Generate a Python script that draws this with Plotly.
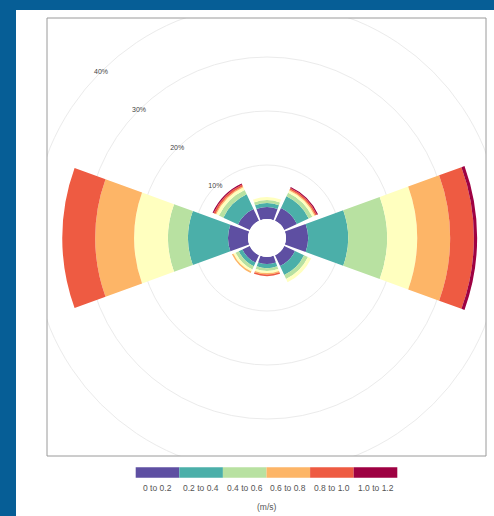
import math
import plotly.graph_objects as go

# ---- data: frequency (%) of each wind-speed bin per direction sector ----
directions = [0, 45, 90, 135, 180, 225, 270, 315]   # N, NE, E, SE, S, SW, W, NW

seg_0_02 = [2.2, 2.6, 4.1, 2.2, 1.3, 1.5, 3.7, 2.4]
seg_02_04 = [0.75, 2.4, 7.4, 1.85, 0.75, 0.75, 7.4, 3.0]
seg_04_06 = [0.55, 0.75, 7.2, 0.8, 0.55, 0.65, 3.7, 0.9]
seg_06_08 = [0.55, 0.45, 5.6, 0.65, 0.37, 0.45, 6.3, 0.55]
seg_08_10 = [0.0, 0.2, 6.1, 0.0, 0.28, 0.3, 7.2, 0.2]
seg_10_12 = [0.0, 0.3, 4.4, 0.0, 0.28, 0.0, 6.1, 0.35]
seg_12_up = [0.0, 0.2, 0.6, 0.0, 0.0, 0.0, 0.0, 0.2]

segments = [seg_0_02, seg_02_04, seg_04_06, seg_06_08, seg_08_10, seg_10_12, seg_12_up]
segment_colors = ["#5E4FA2", "#4BAFA9", "#B8E1A1", "#FFFFBF", "#FDB567", "#EE5B42", "#9E0142"]

legend_labels = ["0 to 0.2", "0.2 to 0.4", "0.4 to 0.6", "0.6 to 0.8", "0.8 to 1.0", "1.0 to 1.2"]
legend_colors = ["#5E4FA2", "#4BAFA9", "#B8E1A1", "#FDB567", "#EE5B42", "#9E0142"]
legend_title = "(m/s)"

grid_values = [10, 20, 30]
label_values = [10, 20, 30]
label_texts = ["10%", "20%", "30%"]
outer_ring_value = 40
outer_ring_text = "40%"

# ---- layout geometry (pixels) ----
W, H = 494, 516
CX, CY = 267, 238          # centre of the rose
R_OUT = 227                # outer radius of the polar area
HOLE_PX = 19               # radius of the empty centre
PX_PER_PCT = 5.4
RMAX = (R_OUT - HOLE_PX) / PX_PER_PCT
LABEL_ANGLE = 315          # compass bearing of the percentage labels

BLUE = "#065E96"
GRID = "#EBEBEB"
FONT = "Liberation Sans, Arial, sans-serif"
TEXT = "#444444"


def fx(x):
    return x / W


def fy(y):
    return 1 - y / H


fig = go.Figure()

for vals, col in zip(segments, segment_colors):
    fig.add_trace(go.Barpolar(
        r=vals, theta=directions, width=[40] * len(directions),
        marker=dict(color=col, line=dict(width=0)),
        hoverinfo="skip", showlegend=False,
    ))

# percentage labels along the north-west diagonal
fig.add_trace(go.Scatterpolar(
    r=label_values, theta=[LABEL_ANGLE] * len(label_values), mode="text",
    text=label_texts, textposition="middle center",
    textfont=dict(family=FONT, size=7, color=TEXT),
    cliponaxis=False, hoverinfo="skip", showlegend=False,
))

shapes = []
annotations = []
# white page inside the blue frame
shapes.append(dict(type="rect", xref="paper", yref="paper", layer="below",
                   x0=fx(16), x1=fx(W), y0=fy(H), y1=fy(10),
                   fillcolor="white", line=dict(width=0)))
# outermost (40 %) grid ring, lying beyond the polar area; clipped by the panel masks
r40 = HOLE_PX + outer_ring_value * PX_PER_PCT
shapes.append(dict(type="circle", xref="paper", yref="paper", layer="below",
                   x0=fx(CX - r40), x1=fx(CX + r40), y0=fy(CY + r40), y1=fy(CY - r40),
                   line=dict(color=GRID, width=1), fillcolor="rgba(0,0,0,0)"))
bearing = math.radians(LABEL_ANGLE)
annotations.append(dict(x=fx(CX + r40 * math.sin(bearing)), y=fy(CY - r40 * math.cos(bearing)),
                        xref="paper", yref="paper", text=outer_ring_text, showarrow=False,
                        xanchor="center", yanchor="middle",
                        font=dict(family=FONT, size=7, color=TEXT)))
# masks outside the panel
PL, PR, PT, PB = 47, 486, 18, 456
for x0, x1, y0, y1, c in [
    (0, W, 0, 10, BLUE), (0, 16, 0, H, BLUE),
    (16, PL, 10, H, "white"), (PR, W, 10, H, "white"),
    (16, W, 10, PT, "white"), (16, W, PB, H, "white"),
]:
    shapes.append(dict(type="rect", xref="paper", yref="paper", layer="below",
                       x0=fx(x0), x1=fx(x1), y0=fy(y1), y1=fy(y0),
                       fillcolor=c, line=dict(width=0)))
# panel border
shapes.append(dict(type="rect", xref="paper", yref="paper", layer="below",
                   x0=fx(PL), x1=fx(PR), y0=fy(PB), y1=fy(PT),
                   fillcolor="rgba(0,0,0,0)", line=dict(color="#9A9A9A", width=1)))

# speed key
KEY_X0, KEY_W, KEY_Y0, KEY_Y1 = 135.7, 43.6, 467.3, 477.7
for i, (lab, col) in enumerate(zip(legend_labels, legend_colors)):
    x0 = KEY_X0 + i * KEY_W
    shapes.append(dict(type="rect", xref="paper", yref="paper", layer="above",
                       x0=fx(x0), x1=fx(x0 + KEY_W), y0=fy(KEY_Y1), y1=fy(KEY_Y0),
                       fillcolor=col, line=dict(width=0)))
    annotations.append(dict(x=fx(x0 + KEY_W / 2), y=fy(487.5), xref="paper", yref="paper",
                            text=lab, showarrow=False, xanchor="center", yanchor="middle",
                            font=dict(family=FONT, size=8.5, color="#555555")))
annotations.append(dict(x=fx(266.7), y=fy(507), xref="paper", yref="paper",
                        text=legend_title, showarrow=False, xanchor="center", yanchor="middle",
                        font=dict(family=FONT, size=8.5, color="#555555")))

fig.update_layout(
    width=W, height=H,
    margin=dict(l=0, r=0, t=0, b=0),
    paper_bgcolor=BLUE,
    plot_bgcolor="white",
    showlegend=False,
    shapes=shapes,
    annotations=annotations,
    polar=dict(
        domain=dict(x=[fx(CX - R_OUT), fx(CX + R_OUT)], y=[fy(CY + R_OUT), fy(CY - R_OUT)]),
        bgcolor="rgba(0,0,0,0)",
        hole=HOLE_PX / R_OUT,
        barmode="stack",
        radialaxis=dict(range=[0, RMAX], tickvals=grid_values, showticklabels=False,
                        showline=False, ticks="", gridcolor=GRID, gridwidth=1),
        angularaxis=dict(rotation=90, direction="clockwise", showgrid=False,
                         showline=False, showticklabels=False, ticks=""),
    ),
)

fig.write_html("out.html")
